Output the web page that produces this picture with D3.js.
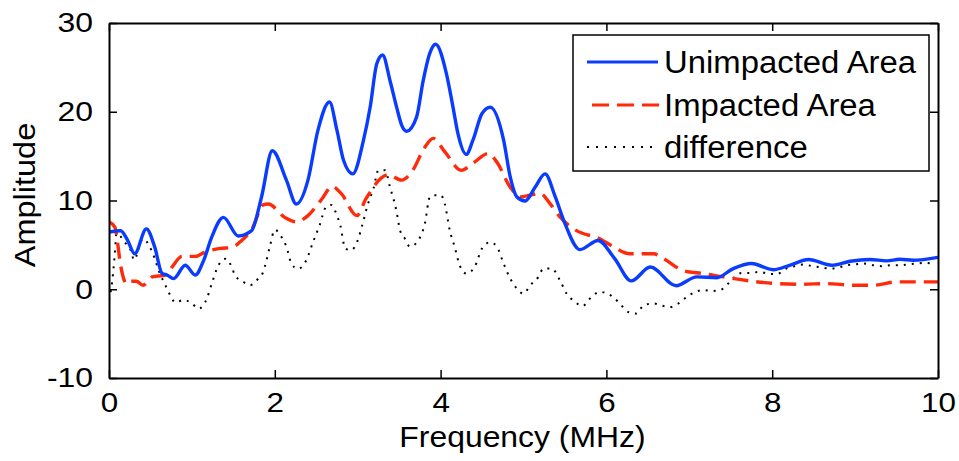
<!DOCTYPE html>
<html><head><meta charset="utf-8">
<script src="https://cdn.jsdelivr.net/npm/d3@7"></script>
<style>
body{margin:0;background:#fff;}
svg{display:block;}
text{font-family:"Liberation Sans",Arial,Helvetica,sans-serif;fill:#000;}
</style>
</head><body>
<svg id="c" width="959" height="461"></svg>
<script>
// ---- data ----
const xTicks = [0, 2, 4, 6, 8, 10];
const yTicks = [-10, 0, 10, 20, 30];
const seriesNames = ["Unimpacted Area", "Impacted Area", "difference"];

const unimpactedFreq = [0.00,0.14,0.22,0.31,0.45,0.55,0.64,0.70,0.78,0.92,1.04,1.14,1.24,1.38,1.56,1.72,1.84,1.97,2.14,2.26,2.40,2.52,2.66,2.75,2.83,2.94,3.07,3.15,3.23,3.30,3.39,3.47,3.53,3.59,3.71,3.79,3.87,3.94,4.07,4.15,4.21,4.31,4.39,4.50,4.60,4.76,4.84,4.92,5.02,5.14,5.26,5.38,5.50,5.68,5.90,6.10,6.30,6.53,6.84,7.09,7.33,7.53,7.75,8.01,8.21,8.44,8.72,8.94,9.18,9.38,9.54,9.70,10.0];
const unimpactedAmp  = [6.45,6.6,5.6,4.0,6.8,4.8,1.8,1.6,1.2,2.7,1.6,3.2,5.9,8.1,6.0,6.6,10.4,15.6,12.3,9.6,12.3,17.9,21.1,17.9,14.5,13.0,16.8,20.5,25.4,26.4,23.5,20.5,18.5,17.8,19.4,23.5,26.6,27.6,24.3,20.5,17.5,15.2,16.8,19.8,20.5,16.8,12.65,10.4,9.95,11.5,13.0,10.5,7.4,4.47,5.5,3.45,0.94,2.5,0.4,1.4,1.3,2.33,2.9,2.2,2.7,3.35,2.7,3.15,3.35,3.2,3.38,3.27,3.6];

const impactedFreq = [0.00,0.07,0.11,0.13,0.17,0.21,0.27,0.33,0.41,0.52,0.68,0.76,0.88,1.04,1.16,1.34,1.48,1.60,1.72,1.86,1.92,2.12,2.26,2.40,2.57,2.69,2.80,2.99,3.10,3.37,3.53,3.65,3.81,3.91,4.05,4.25,4.39,4.58,4.68,4.84,4.96,5.08,5.20,5.32,5.44,5.64,5.92,6.08,6.28,6.57,6.69,6.93,7.17,7.41,7.73,8.05,8.35,8.66,8.98,9.22,9.50,10.0];
const impactedAmp  = [7.6,7.0,4.8,3.3,1.4,0.6,0.9,0.9,0.45,1.4,1.6,2.5,3.7,3.7,4.2,4.6,4.7,5.5,6.7,9.5,9.6,8.1,7.6,8.3,10.2,11.6,10.8,8.3,10.2,12.9,12.3,13.2,16.0,17.0,15.5,13.4,14.2,15.3,14.3,11.5,10.4,10.6,10.8,9.65,8.15,6.6,5.7,4.8,4.0,4.0,3.45,2.1,1.77,1.39,0.94,0.64,0.56,0.64,0.45,0.45,0.83,0.83];

const differenceFreq = [0.00,0.04,0.07,0.09,0.19,0.27,0.30,0.41,0.49,0.55,0.60,0.68,0.74,0.80,0.90,1.00,1.08,1.18,1.24,1.32,1.41,1.48,1.52,1.62,1.70,1.80,1.86,1.90,1.94,2.00,2.08,2.14,2.20,2.28,2.38,2.46,2.54,2.62,2.68,2.75,2.79,2.85,2.92,3.00,3.06,3.12,3.19,3.25,3.33,3.39,3.47,3.51,3.57,3.63,3.73,3.81,3.87,3.92,4.00,4.05,4.11,4.17,4.23,4.31,4.41,4.50,4.60,4.68,4.76,4.84,4.92,5.00,5.08,5.18,5.24,5.34,5.44,5.52,5.62,5.71,5.82,5.92,6.08,6.18,6.26,6.36,6.45,6.57,6.65,6.77,6.87,6.97,7.07,7.17,7.27,7.37,7.47,7.55,7.63,7.73,7.85,7.95,8.05,8.17,8.27,8.38,8.48,8.60,8.70,8.80,8.90,9.00,9.10,9.22,9.32,9.42,9.54,9.64,9.74,9.84,9.94];
const differenceAmp  = [-1.2,1.0,4.0,6.3,5.3,4.2,3.3,5.7,4.8,3.5,2.1,0.45,-0.7,-1.5,-1.2,-1.6,-2.2,-1.05,0.64,2.7,3.45,2.5,1.58,0.83,0.45,1.2,1.95,3.27,4.8,6.7,5.9,4.8,2.9,2.3,3.27,5.3,7.2,9.3,9.5,8.3,7.2,4.6,4.4,5.5,7.4,9.5,11.35,13.4,13.4,11.5,8.7,6.65,5.7,4.8,5.5,7.4,10.4,10.6,10.6,9.65,6.65,4.77,2.7,1.77,2.5,4.6,5.3,4.77,2.9,1.2,0.08,-0.5,0.45,1.39,2.33,2.33,1.0,-0.5,-1.4,-1.9,-0.87,-0.3,-0.87,-1.8,-2.55,-2.74,-1.8,-1.6,-1.8,-2.0,-1.6,-0.87,-0.3,-0.1,-0.2,-0.1,0.64,1.4,1.84,1.84,1.95,1.77,1.69,2.33,2.6,2.8,2.6,2.45,2.33,2.45,2.7,2.8,2.9,2.7,2.6,2.7,2.7,2.8,2.9,2.97,2.9];

// ---- layout ----
const svg = d3.select("#c");
const L = 109, R = 938, T = 23, B = 378;
const x = d3.scaleLinear().domain([0, 10]).range([L, R]);
const y = d3.scaleLinear().domain([-10, 30]).range([B, T]);

function stretch(sel, f) {
  sel.each(function () {
    const w = this.getComputedTextLength();
    this.setAttribute("textLength", w * f);
    this.setAttribute("lengthAdjust", "spacingAndGlyphs");
  });
}

svg.append("defs").append("clipPath").attr("id", "clip")
  .append("rect").attr("x", L).attr("y", T).attr("width", R - L).attr("height", B - T);

const plot = svg.append("g").attr("clip-path", "url(#clip)");
const line = d3.line().x(d => x(d[0])).y(d => y(d[1])).curve(d3.curveMonotoneX);
const zip = (a, b) => a.map((v, i) => [v, b[i]]);

const styles = [
  { color: "#0a3cff", width: 3.4, dash: null },
  { color: "#ff2a0a", width: 3.4, dash: "16,8" },
  { color: "#000000", width: 2, dash: "2,6" }
];
const data = [zip(unimpactedFreq, unimpactedAmp), zip(impactedFreq, impactedAmp), zip(differenceFreq, differenceAmp)];

[2, 1, 0].forEach(i => {
  plot.append("path").datum(data[i])
    .attr("d", line)
    .attr("fill", "none")
    .attr("stroke", styles[i].color)
    .attr("stroke-width", styles[i].width)
    .attr("stroke-dasharray", styles[i].dash)
    .attr("stroke-linejoin", "round");
});

// axes box with inward ticks on all sides
const tl = 8;
const fmt = d => String(d);
const axB = svg.append("g").attr("transform", `translate(0,${B})`).call(d3.axisBottom(x).tickValues(xTicks).tickSizeInner(-tl).tickSizeOuter(0).tickPadding(14).tickFormat(fmt));
const axT = svg.append("g").attr("transform", `translate(0,${T})`).call(d3.axisTop(x).tickValues(xTicks).tickSizeInner(-tl).tickSizeOuter(0).tickFormat(""));
const axL = svg.append("g").attr("transform", `translate(${L},0)`).call(d3.axisLeft(y).tickValues(yTicks).tickSizeInner(-tl).tickSizeOuter(0).tickPadding(16).tickFormat(fmt));
const axR = svg.append("g").attr("transform", `translate(${R},0)`).call(d3.axisRight(y).tickValues(yTicks).tickSizeInner(-tl).tickSizeOuter(0).tickFormat(""));
[axB, axT, axL, axR].forEach(a => {
  a.select(".domain").attr("stroke", "#000").attr("stroke-width", 2);
  a.selectAll(".tick line").attr("stroke", "#000").attr("stroke-width", 1.5);
  a.selectAll("text").attr("font-size", 28).attr("font-family", '"Liberation Sans",Arial,sans-serif').attr("fill", "#000");
});
axB.selectAll("text").attr("dy", "0.71em");
stretch(axB.selectAll("text"), 1.12);
stretch(axL.selectAll("text"), 1.14);

// axis labels
const xl = svg.append("text").attr("x", (L + R) / 2 - 1).attr("y", 447).attr("text-anchor", "middle")
  .attr("font-size", 29).text("Frequency (MHz)");
stretch(xl, 1.1);
const yl = svg.append("text").attr("transform", `translate(35,195) rotate(-90)`).attr("text-anchor", "middle")
  .attr("font-size", 29).text("Amplitude");
stretch(yl, 1.12);

// legend
const lg = svg.append("g");
lg.append("rect").attr("x", 573).attr("y", 35).attr("width", 356).attr("height", 136)
  .attr("fill", "#fff").attr("stroke", "#000").attr("stroke-width", 1.5);
const rowsY = [62, 105, 147];
seriesNames.forEach((name, i) => {
  lg.append("line").attr("x1", 587).attr("x2", 658).attr("y1", rowsY[i]).attr("y2", rowsY[i])
    .attr("stroke", styles[i].color).attr("stroke-width", i === 2 ? 2 : 3.2)
    .attr("stroke-dasharray", i === 1 ? "17,8" : (i === 2 ? "2,7" : null))
    .attr("transform", i === 1 ? "translate(5,0)" : null);
  const t = lg.append("text").attr("x", 664).attr("y", rowsY[i] + 11).attr("font-size", 31).text(name);
  stretch(t, 1.06);
});
</script>
</body></html>
